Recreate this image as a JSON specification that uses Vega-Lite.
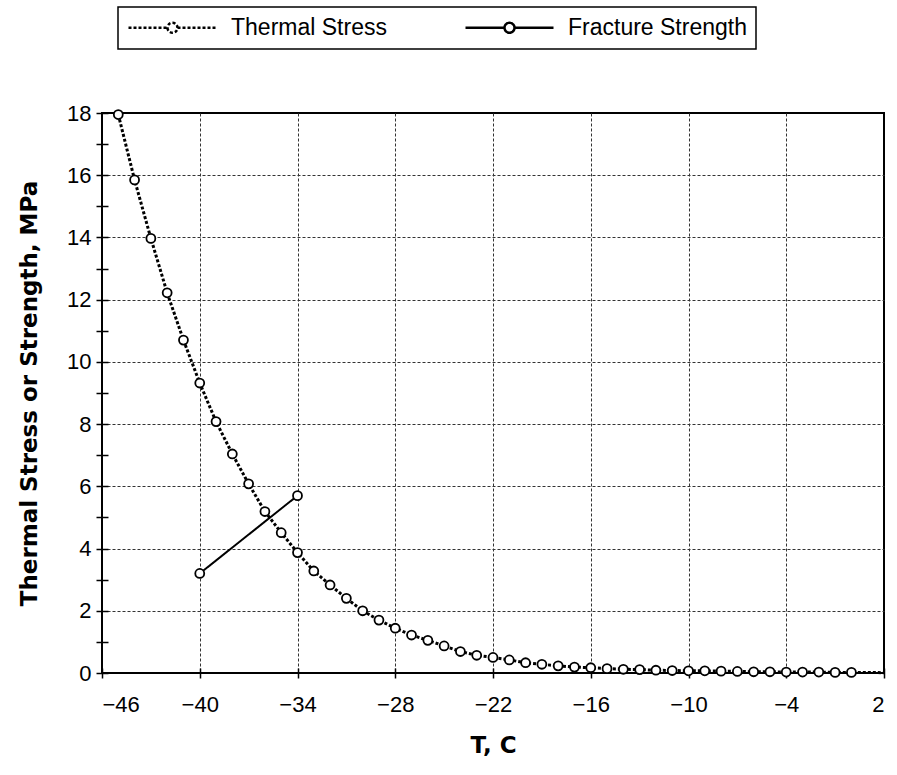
{
  "$schema": "https://vega.github.io/schema/vega-lite/v6.json",
  "width": 782,
  "height": 560,
  "autosize": "none",
  "padding": {"left": 102, "top": 113, "right": 13, "bottom": 102},
  "background": "white",
  "config": {
    "view": {"stroke": "#000", "strokeWidth": 2},
    "font": "Liberation Sans",
    "legend": {"strokeWidth": 1.5}
  },
  "data": {
    "values": [
      {"T": -45, "value": 17.95, "series": "Thermal Stress"},
      {"T": -44, "value": 15.85, "series": "Thermal Stress"},
      {"T": -43, "value": 13.97, "series": "Thermal Stress"},
      {"T": -42, "value": 12.22, "series": "Thermal Stress"},
      {"T": -41, "value": 10.7, "series": "Thermal Stress"},
      {"T": -40, "value": 9.32, "series": "Thermal Stress"},
      {"T": -39, "value": 8.08, "series": "Thermal Stress"},
      {"T": -38, "value": 7.04, "series": "Thermal Stress"},
      {"T": -37, "value": 6.08, "series": "Thermal Stress"},
      {"T": -36, "value": 5.19, "series": "Thermal Stress"},
      {"T": -35, "value": 4.51, "series": "Thermal Stress"},
      {"T": -34, "value": 3.87, "series": "Thermal Stress"},
      {"T": -33, "value": 3.28, "series": "Thermal Stress"},
      {"T": -32, "value": 2.83, "series": "Thermal Stress"},
      {"T": -31, "value": 2.4, "series": "Thermal Stress"},
      {"T": -30, "value": 2.0, "series": "Thermal Stress"},
      {"T": -29, "value": 1.7, "series": "Thermal Stress"},
      {"T": -28, "value": 1.44, "series": "Thermal Stress"},
      {"T": -27, "value": 1.22, "series": "Thermal Stress"},
      {"T": -26, "value": 1.05, "series": "Thermal Stress"},
      {"T": -25, "value": 0.87, "series": "Thermal Stress"},
      {"T": -24, "value": 0.69, "series": "Thermal Stress"},
      {"T": -23, "value": 0.57, "series": "Thermal Stress"},
      {"T": -22, "value": 0.5, "series": "Thermal Stress"},
      {"T": -21, "value": 0.42, "series": "Thermal Stress"},
      {"T": -20, "value": 0.33, "series": "Thermal Stress"},
      {"T": -19, "value": 0.28, "series": "Thermal Stress"},
      {"T": -18, "value": 0.23, "series": "Thermal Stress"},
      {"T": -17, "value": 0.19, "series": "Thermal Stress"},
      {"T": -16, "value": 0.17, "series": "Thermal Stress"},
      {"T": -15, "value": 0.14, "series": "Thermal Stress"},
      {"T": -14, "value": 0.12, "series": "Thermal Stress"},
      {"T": -13, "value": 0.11, "series": "Thermal Stress"},
      {"T": -12, "value": 0.09, "series": "Thermal Stress"},
      {"T": -11, "value": 0.08, "series": "Thermal Stress"},
      {"T": -10, "value": 0.07, "series": "Thermal Stress"},
      {"T": -9, "value": 0.07, "series": "Thermal Stress"},
      {"T": -8, "value": 0.06, "series": "Thermal Stress"},
      {"T": -7, "value": 0.05, "series": "Thermal Stress"},
      {"T": -6, "value": 0.04, "series": "Thermal Stress"},
      {"T": -5, "value": 0.04, "series": "Thermal Stress"},
      {"T": -4, "value": 0.03, "series": "Thermal Stress"},
      {"T": -3, "value": 0.03, "series": "Thermal Stress"},
      {"T": -2, "value": 0.03, "series": "Thermal Stress"},
      {"T": -1, "value": 0.02, "series": "Thermal Stress"},
      {"T": 0, "value": 0.02, "series": "Thermal Stress"},
      {"T": 1, "value": 0.02, "series": "Thermal Stress"},
      {"T": 2, "value": 0.01, "series": "Thermal Stress"},
      {"T": -40, "value": 3.2, "series": "Fracture Strength"},
      {"T": -34, "value": 5.7, "series": "Fracture Strength"}
    ]
  },
  "encoding": {
    "x": {
      "field": "T",
      "type": "quantitative",
      "scale": {"domain": [-46, 2], "nice": false, "zero": false},
      "axis": {
        "title": "T, C",
        "values": [-46, -40, -34, -28, -22, -16, -10, -4, 2],
        "offset": -5,
        "tickSize": 10,
        "tickColor": "#000",
        "tickWidth": 1.5,
        "domain": false,
        "labelPadding": 16,
        "labelFontSize": 22,
        "labelColor": "#000",
        "labelFont": "Liberation Sans",
        "grid": true,
        "gridColor": "#333",
        "gridDash": [3, 2],
        "gridWidth": 1,
        "gridOpacity": {"condition": {"test": "datum.value === -46 || datum.value === 2", "value": 0}, "value": 1},
        "titleFont": "DejaVu Sans",
        "titleFontSize": 23,
        "titleFontWeight": "bold",
        "titleColor": "#000",
        "titlePadding": 19
      }
    },
    "y": {
      "field": "value",
      "type": "quantitative",
      "scale": {"domain": [0, 18], "nice": false},
      "axis": {
        "title": "Thermal Stress or Strength, MPa",
        "values": [0, 1, 2, 3, 4, 5, 6, 7, 8, 9, 10, 11, 12, 13, 14, 15, 16, 17, 18],
        "labelExpr": "datum.value % 2 === 0 ? datum.label : ''",
        "offset": -6,
        "tickSize": 12,
        "tickColor": "#000",
        "tickWidth": 1.5,
        "domain": false,
        "labelPadding": 5,
        "labelFontSize": 22,
        "labelColor": "#000",
        "labelFont": "Liberation Sans",
        "grid": true,
        "gridColor": "#333",
        "gridDash": [3, 2],
        "gridWidth": 1,
        "gridOpacity": {"condition": {"test": "datum.value % 2 === 1 || datum.value === 0 || datum.value === 18", "value": 0}, "value": 1},
        "titleFont": "DejaVu Sans",
        "titleFontSize": 23,
        "titleFontWeight": "bold",
        "titleColor": "#000",
        "titlePadding": 25
      }
    }
  },
  "layer": [
    {
      "mark": {"type": "rule", "color": "#000", "strokeWidth": 3},
      "encoding": {"y": {"datum": 0}}
    },
    {
      "transform": [{"filter": "datum.series === 'Thermal Stress'"}],
      "mark": {"type": "line", "color": "#000", "strokeWidth": 3, "clip": false},
      "encoding": {
        "strokeDash": {
          "field": "series",
          "type": "nominal",
          "scale": {"domain": ["Thermal Stress", "Fracture Strength"], "range": [[3, 2], [1, 0]]},
          "legend": {
            "orient": "none",
            "legendX": 16,
            "legendY": -106,
            "direction": "horizontal",
            "title": null,
            "strokeColor": "#000",
            "fillColor": "#fff",
            "padding": 9,
            "symbolType": "M-1,0H2.9M3.9,0H7.8M2.9,0A0.5,0.5 0 1,0 3.9,0A0.5,0.5 0 1,0 2.9,0",
            "symbolSize": 400,
            "symbolStrokeColor": "#000",
            "symbolStrokeWidth": 2.5,
            "symbolFillColor": "#fff",
            "labelFont": "Liberation Sans",
            "labelFontSize": 23,
            "labelColor": "#000",
            "labelLimit": 400,
            "labelOffset": 81,
            "columnPadding": 73
          }
        }
      }
    },
    {
      "transform": [{"filter": "datum.series === 'Fracture Strength'"}],
      "mark": {"type": "line", "color": "#000", "strokeWidth": 2},
      "encoding": {
        "strokeDash": {"field": "series", "type": "nominal"}
      }
    },
    {
      "transform": [{"filter": "datum.T <= 0"}],
      "mark": {"type": "point", "shape": "circle", "filled": true, "fill": "#fff", "stroke": "#000", "strokeWidth": 1.8, "size": 80, "opacity": 1, "clip": false}
    }
  ]
}
